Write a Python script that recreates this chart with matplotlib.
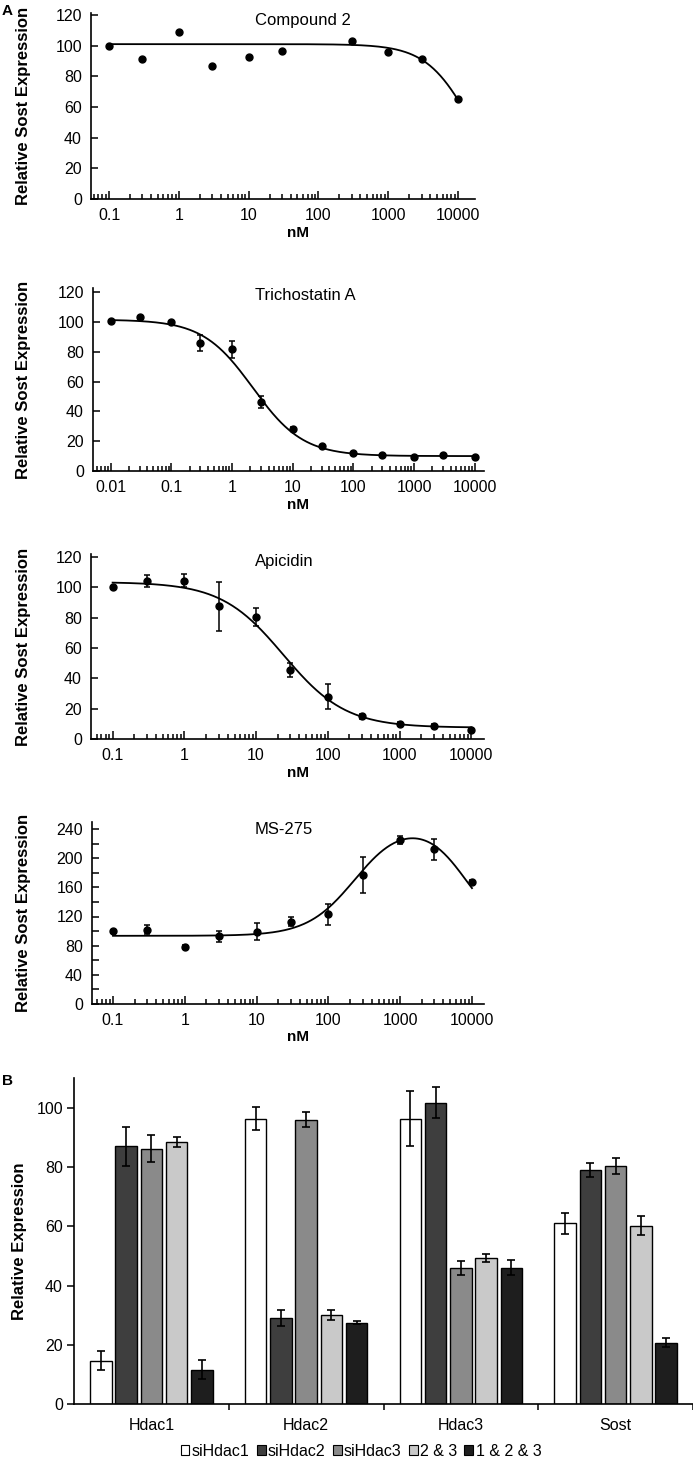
import numpy as np
import matplotlib
matplotlib.use("Agg")
import matplotlib.pyplot as plt
from matplotlib.patches import Patch
from matplotlib.ticker import FixedLocator, FixedFormatter, NullFormatter

plt.rcParams['font.family'] = ['Liberation Sans', 'DejaVu Sans']

# ---- panel A data (nM, % of control) ----
comp2_x = [0.1, 0.3, 1, 3, 10, 30, 300, 1000, 3000, 10000]
comp2_y = [100, 91.5, 109, 86.5, 92.5, 96.5, 103, 96, 91, 65]

tsa_x = [0.01, 0.03, 0.1, 0.3, 1, 3, 10, 30, 100, 300, 1000, 3000, 10000]
tsa_y = [100.5, 103, 100, 86, 81.5, 46.5, 28, 16.5, 12, 10.7, 9.3, 10.8, 9.5]
tsa_err = [0.8, 0.8, 0.8, 5.5, 5.5, 4, 1.5, 0.8, 0.8, 0.8, 0.8, 0.8, 0.8]

api_x = [0.1, 0.3, 1, 3, 10, 30, 100, 300, 1000, 3000, 10000]
api_y = [100, 104, 104.5, 87.5, 80.5, 45.5, 28, 15, 10, 8.5, 6]
api_err = [1, 4, 4, 16, 5.7, 4.8, 8.4, 1.5, 1.5, 1.2, 1]

ms_x = [0.1, 0.3, 1, 3, 10, 30, 100, 300, 1000, 3000, 10000]
ms_y = [100, 102, 78, 93, 99, 113, 123, 177, 225, 212, 167]
ms_err = [2, 6.5, 2.5, 7.5, 11.5, 6, 14, 24.5, 5, 14, 3]

# fitted curve parameters (top, bottom, IC50, hill)
comp2_fit = (101, 0, 15300, 1.35)
tsa_fit = (101.5, 10, 2.2, 1.05)
api_fit = (103.5, 7.5, 24, 1.0)
# bell shaped fit (baseline, amplitude, EC50 up, hill up, IC50 down, hill down)
ms_fit = (93.5, 158, 240, 1.3, 8000, 1.5)

# ---- panel B data ----
genes = ['Hdac1', 'Hdac2', 'Hdac3', 'Sost']
groups = ['siHdac1', 'siHdac2', 'siHdac3', '2 & 3', '1 & 2 & 3']
siHdac1 = [14.6, 96.4, 96.4, 61.0]
siHdac2 = [87.0, 28.9, 101.8, 79.1]
siHdac3 = [86.2, 96.0, 46.0, 80.3]
kd23 = [88.5, 30.1, 49.3, 60.3]
kd123 = [11.6, 27.5, 46.0, 20.7]
siHdac1_err = [3.2, 4.0, 9.3, 3.5]
siHdac2_err = [6.7, 2.7, 5.3, 2.4]
siHdac3_err = [4.6, 2.5, 2.4, 2.7]
kd23_err = [1.6, 1.7, 1.4, 3.1]
kd123_err = [3.2, 0.4, 2.5, 1.5]
bar_colors = ['#ffffff', '#3e3e3e', '#8a8a8a', '#c9c9c9', '#1e1e1e']

W, H = 693, 1459
fig = plt.figure(figsize=(W / 100, H / 100), dpi=100)


def axes_px(left, right, y0, yref_px, yref, ymax):
    # place an axes from pixel positions
    ppu = (y0 - yref_px) / yref
    top = y0 - ymax * ppu
    return fig.add_axes([left / W, 1 - y0 / H, (right - left) / W, (y0 - top) / H])


def logistic(x, p):
    top, bottom, ic, h = p
    return bottom + (top - bottom) / (1 + (x / ic) ** h)


def bell(x, p):
    base, amp, ec1, h1, ec2, h2 = p
    return base + amp / (1 + (ec1 / x) ** h1) / (1 + (x / ec2) ** h2)


def dose_panel(ax, x, y, err, curve_y, xlim, ymax, ymajor, yminor, title, fit_x):
    ax.set_xscale('log')
    ax.set_xlim(xlim)
    ax.set_ylim(0, ymax)
    ax.plot(fit_x, curve_y, color='black', lw=1.3, zorder=2)
    if err is None:
        ax.plot(x, y, 'o', color='black', ms=5, zorder=3)
    else:
        ax.errorbar(x, y, yerr=err, fmt='o', color='black', ms=5, capsize=2.5,
                    elinewidth=1.1, capthick=1.1, zorder=3)
    d0 = int(np.floor(np.log10(xlim[0])))
    majors = [10.0 ** d for d in range(d0 + 1, 5)]
    minors = [m * 10.0 ** d for d in range(d0, 4) for m in range(2, 10)
              if m * 10.0 ** d > xlim[0]]
    ax.xaxis.set_major_locator(FixedLocator(majors))
    ax.xaxis.set_major_formatter(FixedFormatter(['%g' % v for v in majors]))
    ax.xaxis.set_minor_locator(FixedLocator(minors))
    ax.xaxis.set_minor_formatter(NullFormatter())
    ax.yaxis.set_major_locator(FixedLocator(ymajor))
    ax.yaxis.set_minor_locator(FixedLocator(yminor))
    ax.tick_params(axis='both', which='both', direction='in', width=1.1,
                   labelsize=11.5, pad=6.5)
    ax.tick_params(axis='x', which='major', length=6)
    ax.tick_params(axis='x', which='minor', length=3.5)
    ax.tick_params(axis='y', which='major', length=5)
    ax.tick_params(axis='y', which='minor', length=5)
    for s in ['top', 'right']:
        ax.spines[s].set_visible(False)
    for s in ['left', 'bottom']:
        ax.spines[s].set_linewidth(1.2)
    ax.patch.set_alpha(0)
    # title left-aligned at x=255 px, top at the upper tick
    bb = ax.get_position()
    fig.text(255 / W, bb.y1, title, fontsize=12, ha='left', va='top')


# Compound 2
ax1 = axes_px(91, 475, 199, 15, 120, 121.5)
fx = np.logspace(np.log10(comp2_x[0]), np.log10(comp2_x[-1]), 300)
dose_panel(ax1, comp2_x, comp2_y, None, logistic(fx, comp2_fit), (0.055, 17500),
           121.5, range(0, 121, 20), [], 'Compound 2', fx)

# Trichostatin A
ax2 = axes_px(93, 484, 471, 292, 120, 122.5)
fx = np.logspace(np.log10(tsa_x[0]), np.log10(tsa_x[-1]), 300)
dose_panel(ax2, tsa_x, tsa_y, tsa_err, logistic(fx, tsa_fit), (0.0051, 14200),
           122.5, range(0, 121, 20), [], 'Trichostatin A', fx)

# Apicidin
ax3 = axes_px(91, 484, 739, 557, 120, 122)
fx = np.logspace(np.log10(api_x[0]), np.log10(api_x[-1]), 300)
dose_panel(ax3, api_x, api_y, api_err, logistic(fx, api_fit), (0.05, 15000),
           122, range(0, 121, 20), [], 'Apicidin', fx)

# MS-275
ax4 = axes_px(92, 484, 1004, 829, 240, 250)
fx = np.logspace(np.log10(ms_x[0]), np.log10(ms_x[-1]), 300)
dose_panel(ax4, ms_x, ms_y, ms_err, bell(fx, ms_fit), (0.051, 14700),
           250, range(0, 241, 40), range(20, 241, 40), 'MS-275', fx)

# nM labels and y labels for panel A
for ax, y0 in [(ax1, 233), (ax2, 505), (ax3, 773), (ax4, 1037)]:
    fig.text(298 / W, 1 - y0 / H, 'nM', fontsize=11, fontweight='bold',
             ha='center', va='center')
    bb = ax.get_position()
    fig.text(24 / W, (bb.y0 + bb.y1) / 2, 'Relative Sost Expression', fontsize=12,
             fontweight='bold', rotation=90, ha='center', va='center')

fig.text(2 / W, 1 - 4 / H, 'A', fontsize=11, fontweight='bold', ha='left', va='top')
fig.text(2 / W, 1 - 1074 / H, 'B', fontsize=11, fontweight='bold', ha='left', va='top')

# ---- panel B ----
axb = axes_px(74, 693, 1404, 1108, 100, 110)
vals = [siHdac1, siHdac2, siHdac3, kd23, kd123]
errs = [siHdac1_err, siHdac2_err, siHdac3_err, kd23_err, kd123_err]
xc = np.arange(len(genes))
step = 0.163
width = 0.138
for i, (v, e) in enumerate(zip(vals, errs)):
    axb.bar(xc + (i - 2) * step, v, width, yerr=e, color=bar_colors[i],
            edgecolor='black', linewidth=1.0, label=groups[i],
            error_kw=dict(ecolor='black', elinewidth=1.2, capsize=3, capthick=1.2))
axb.set_xlim(-0.5, len(genes) - 0.5)
axb.set_ylim(0, 110)
axb.set_yticks(range(0, 101, 20))
axb.set_xticks(xc)
axb.set_xticklabels(genes)
axb.set_xticks(np.arange(0.5, len(genes) - 0.4, 1), minor=True)
axb.tick_params(axis='x', which='major', length=0, pad=10, labelsize=11.5)
axb.tick_params(axis='x', which='minor', length=4, width=1.1, direction='out')
axb.tick_params(axis='y', length=5, width=1.1, direction='out', pad=3, labelsize=11.5)
for s in ['top', 'right']:
    axb.spines[s].set_visible(False)
for s in ['left', 'bottom']:
    axb.spines[s].set_linewidth(1.2)
bb = axb.get_position()
fig.text(20 / W, (bb.y0 + bb.y1) / 2, 'Relative Expression', fontsize=12,
         fontweight='bold', rotation=90, ha='center', va='center')

handles = [Patch(facecolor=c, edgecolor='black', linewidth=0.8) for c in bar_colors]
fig.legend(handles, groups, loc='center', bbox_to_anchor=(361 / W, 1 - 1451 / H),
           ncol=5, frameon=False, fontsize=11.5, handlelength=0.55, handleheight=0.65,
           handletextpad=0.15, columnspacing=0.45, borderpad=0, borderaxespad=0)

plt.savefig('out.png', dpi=100)
